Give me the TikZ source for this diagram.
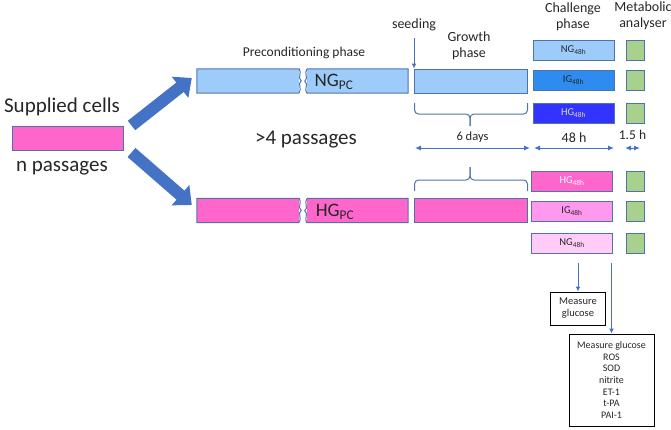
\documentclass[tikz,border=0pt]{standalone}
\usepackage{fontspec}
\setmainfont{Carlito}
\usepackage{tikz}
\usetikzlibrary{arrows.meta}

\definecolor{cpink}{HTML}{FF66CC}
\definecolor{ngblue}{HTML}{9DCBFA}
\definecolor{igblue}{HTML}{2E8CF0}
\definecolor{hgblue}{HTML}{3333FF}
\definecolor{igpink}{HTML}{FF99F0}
\definecolor{ngpink}{HTML}{FFCCF7}
\definecolor{mgreen}{HTML}{A9D18E}
\definecolor{boxline}{HTML}{4F73A8}
\definecolor{arrowblue}{HTML}{4472C4}
\definecolor{txt}{HTML}{262626}

\newcommand\setfs[2]{\fontsize{#1}{#2}\selectfont}

\tikzset{
  piece/.style={minimum height=24pt, inner sep=0pt},
  box/.style={piece, draw=boxline, line width=1pt},
  edge/.style={draw=boxline, line width=1pt},
  chbox/.style={draw=boxline, line width=1pt, minimum width=81pt, minimum height=20pt,
    inner sep=0pt, text=txt, font=\setfs{10.5}{12}},
  mabox/.style={draw=boxline, line width=1pt, fill=mgreen, minimum width=18pt, minimum height=20pt, inner sep=0pt},
  lbl/.style={text=txt, inner sep=0pt},
  dim/.style={draw=arrowblue, line width=1pt, {Latex[length=6pt,width=5pt]}-{Latex[length=6pt,width=5pt]}},
  flow/.style={draw=arrowblue, line width=1pt, -{Latex[length=5pt,width=5pt]}},
  bigarrow/.style={draw=arrowblue, line width=12pt, -{Triangle[width=26pt,length=15pt]}},
  brc/.style={draw=boxline, line width=1pt, rounded corners=4pt},
  result/.style={draw=black, line width=1pt, inner sep=0pt, align=center, text=txt},
}

\begin{document}
\begin{tikzpicture}[x=1pt,y=-1pt]
\useasboundingbox (0,0) rectangle (671,429);

% supplied cells
\node[box, fill=cpink, minimum width=111pt] (sup) at (67.5,138) {};
\node[lbl, font=\setfs{21}{24}] (suptext) at (62,107) {Supplied cells};
\node[lbl, font=\setfs{21}{24}] (npass) at (62,168) {n passages};
\node[lbl, font=\setfs{21}{24}] (pass4) at (306,140) {>4 passages};

% headings
\node[lbl, font=\setfs{13.5}{16}] (precond) at (304,53) {Preconditioning phase};
\node[lbl, font=\setfs{14}{16}] (seed) at (414,25) {seeding};
\node[lbl, font=\setfs{14}{16}, align=center] (growth) at (469,46) {Growth\\phase};
\node[lbl, font=\setfs{14}{16}, align=center] (chal) at (573,17) {Challenge\\phase};
\node[lbl, font=\setfs{14}{16}, align=center] (metab) at (643,16) {Metabolic\\analyser};

% NG row
\node[piece, fill=ngblue, minimum width=102pt] (ngpre) at (248,81) {};
\draw[edge] (ngpre.south east) -- (ngpre.south west) -- (ngpre.north west) -- (ngpre.north east)
  .. controls +(3,4) and +(-4,-3) .. ++(2,12) .. controls +(-4,3) and +(3,-4) .. ++(-2,12);
\node[piece, fill=ngblue, minimum width=101pt] (ngmid) at (357.5,81) {};
\draw[edge] (ngmid.north west) -- (ngmid.north east) -- (ngmid.south east) -- (ngmid.south west)
  .. controls +(-3,-4) and +(4,3) .. ++(-2,-12) .. controls +(4,-3) and +(-3,4) .. ++(2,-12);
\node[box, fill=ngblue, minimum width=113pt] (nggrow) at (471,81) {};
\node[lbl, font=\setfs{19}{22}] (ngpc) at (334,82) {NG\textsubscript{PC}};

% HG row
\node[piece, fill=cpink, minimum width=102pt] (hgpre) at (248,210.5) {};
\draw[edge] (hgpre.south east) -- (hgpre.south west) -- (hgpre.north west) -- (hgpre.north east)
  .. controls +(3,4) and +(-4,-3) .. ++(2,12) .. controls +(-4,3) and +(3,-4) .. ++(-2,12);
\node[piece, fill=cpink, minimum width=101pt] (hgmid) at (357.5,210.5) {};
\draw[edge] (hgmid.north west) -- (hgmid.north east) -- (hgmid.south east) -- (hgmid.south west)
  .. controls +(-3,-4) and +(4,3) .. ++(-2,-12) .. controls +(4,-3) and +(-3,4) .. ++(2,-12);
\node[box, fill=cpink, minimum width=113pt] (hggrow) at (471,210.5) {};
\node[lbl, font=\setfs{19}{22}] (hgpc) at (335,212) {HG\textsubscript{PC}};

% split of the supplied cells
\draw[bigarrow] ([xshift=8pt]sup.north east) -- ([xshift=-5pt,yshift=3pt]ngpre.west);
\draw[bigarrow] ([xshift=8pt,yshift=-2pt]sup.south east) -- ([xshift=-5pt,yshift=5.5pt]hgpre.west);

% seeding
\draw[flow, shorten <=7pt] (seed) -- (nggrow.north west);

% braces
\draw[brc] (414.5,103) |- (470,114) -- (470,126);
\draw[brc] (527.5,103) |- (470,114) -- (470,126);
\draw[brc] (414.5,191) |- (470,180) -- (470,167);
\draw[brc] (527.5,191) |- (470,180) -- (470,167);

% durations
\coordinate (g0) at (415,148);
\coordinate (g1) at (530,148);
\coordinate (c0) at (534,148);
\coordinate (c1) at (614,148);
\coordinate (m0) at (625,148);
\coordinate (m1) at (640,148);
\draw[dim] (g0) -- (g1) node[midway, above=5pt, lbl, font=\setfs{12.5}{14}] (sixdays) {6 days};
\draw[dim] (c0) -- (c1) node[midway, above=5pt, lbl, font=\setfs{14}{16}] (fortyeight) {48 h};
\draw[dim] (m0) -- (m1) node[midway, above=8pt, lbl, font=\setfs{13.5}{16}] (onefive) {1.5 h};

% challenge phase
\node[chbox, fill=ngblue] (ngch) at (573.5,50) {NG\textsubscript{48h}};
\node[chbox, fill=igblue] (igch) at (573.5,80) {IG\textsubscript{48h}};
\node[chbox, fill=hgblue, text=white!85!blue] (hgch) at (573.5,113) {HG\textsubscript{48h}};
\node[chbox, fill=cpink, text=white] (hgch2) at (572,181) {HG\textsubscript{48h}};
\node[chbox, fill=igpink] (igch2) at (572,211) {IG\textsubscript{48h}};
\node[chbox, fill=ngpink] (ngch2) at (572,243) {NG\textsubscript{48h}};

% metabolic analyser
\node[mabox] (ma1) at (635,50) {};
\node[mabox] (ma2) at (635,80) {};
\node[mabox] (ma3) at (635,113) {};
\node[mabox] (ma4) at (635,181) {};
\node[mabox] (ma5) at (635,211) {};
\node[mabox] (ma6) at (635,243) {};

% measurements
\node[result, minimum width=55pt, minimum height=33pt, font=\setfs{10.5}{12}] (meas1) at (578,308.5) {Measure\\glucose};
\node[result, minimum width=85pt, minimum height=92pt, font=\setfs{10}{11.7}] (meas2) at (611.5,380)
  {Measure glucose\\ROS\\SOD\\nitrite\\ET-1\\t-PA\\PAI-1};
\draw[flow, shorten <=9pt] (meas1.north |- ngch2.south) -- (meas1.north);
\draw[flow, shorten <=9pt] (meas2.north |- ngch2.south) -- (meas2.north);
\end{tikzpicture}
\end{document}
